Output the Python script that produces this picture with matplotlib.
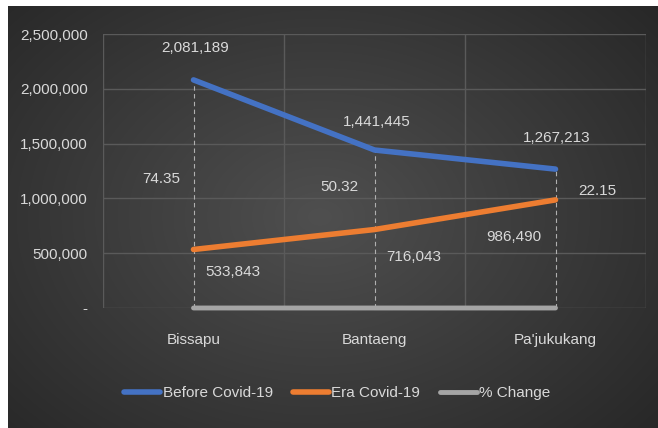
import numpy as np
import matplotlib
matplotlib.use("Agg")
import matplotlib.pyplot as plt
from matplotlib.ticker import FuncFormatter, MultipleLocator

plt.rcParams['font.family'] = ['Liberation Sans', 'DejaVu Sans']

districts = ["Bissapu", "Bantaeng", "Pa'jukukang"]
before_covid = [2081189, 1441445, 1267213]
era_covid = [533843, 716043, 986490]
pct_change = [74.35, 50.32, 22.15]

TEXT = "#d9d9d9"
BLUE = "#4472c4"
ORANGE = "#ed7d31"
GREY = "#a5a5a5"
GRID = "#5a5a5a"

W, H = 658, 428
fig = plt.figure(figsize=(W / 100, H / 100), dpi=100)
fig.patch.set_facecolor("white")

# dark panel with a soft radial shading
bg = fig.add_axes([8 / W, 0, 1 - 8 / W, 1 - 6 / H])
yy, xx = np.mgrid[0:1:300j, 0:1:400j]
r = np.sqrt(((xx - 0.48) / 0.75) ** 2 + ((yy - 0.5) / 0.85) ** 2)
shade = np.clip(1 - r, 0, 1)
lo, hi = np.array([0.14, 0.14, 0.14]), np.array([0.31, 0.31, 0.31])
img = lo + (hi - lo) * shade[..., None]
bg.imshow(img, aspect="auto", extent=[0, 1, 0, 1], interpolation="bilinear")
bg.set_axis_off()

ax = fig.add_axes([103 / W, 1 - 308 / H, (646 - 103) / W, (308 - 34) / H])
ax.patch.set_alpha(0)
x = np.arange(len(districts))

fs = 11
ax.set_xlim(-0.5, 2.5)
ax.set_ylim(0, 2500000)
ax.yaxis.set_major_locator(MultipleLocator(500000))
ax.yaxis.set_major_formatter(FuncFormatter(lambda v, p: "-" if v == 0 else f"{int(v):,}"))
ax.set_xticks(x)
ax.set_xticklabels(districts)
ax.set_xticks([-0.5, 0.5, 1.5, 2.5], minor=True)
ax.tick_params(axis="both", which="both", length=0, colors=TEXT, labelsize=fs)
ax.tick_params(axis="x", pad=18)
ax.tick_params(axis="y", pad=11)
ax.grid(axis="y", which="major", color=GRID, linewidth=1)
ax.grid(axis="x", which="minor", color=GRID, linewidth=1)
for s in ax.spines.values():
    s.set_visible(False)

# drop lines
tops = np.maximum(before_covid, era_covid)
ax.vlines(x, 0, tops, colors="#b0b0b0", linestyles=(0, (4, 3)), linewidth=0.8, zorder=2)

ax.plot(x, before_covid, color=BLUE, lw=4, solid_capstyle="round", solid_joinstyle="round",
        label="Before Covid-19", zorder=4)
ax.plot(x, era_covid, color=ORANGE, lw=4, solid_capstyle="round", solid_joinstyle="round",
        label="Era Covid-19", zorder=4)
ax.plot(x, pct_change, color=GREY, lw=3.5, solid_capstyle="round",
        label="% Change", zorder=3, clip_on=False)

before_off = [(2, 32), (2, 28), (1, 31)]
for xi, v, off in zip(x, before_covid, before_off):
    ax.annotate(f"{v:,}", (xi, v), xytext=off, textcoords="offset pixels",
                ha="center", va="center", color=TEXT, fontsize=fs)
era_off = [(39, -23), (39, -27), (-42, -37)]
for xi, v, off in zip(x, era_covid, era_off):
    ax.annotate(f"{v:,}", (xi, v), xytext=off, textcoords="offset pixels",
                ha="center", va="center", color=TEXT, fontsize=fs)
pct_off = [(-32, 129), (-35, 121), (42, 117)]
for xi, v, off in zip(x, pct_change, pct_off):
    ax.annotate(f"{v:.2f}", (xi, v), xytext=off, textcoords="offset pixels",
                ha="center", va="center", color=TEXT, fontsize=fs)

leg = fig.legend(loc="center", bbox_to_anchor=(337 / W, 1 - 393 / H), ncol=3,
                 frameon=False, fontsize=fs, handlelength=2.4, handletextpad=0.15,
                 columnspacing=1.3, labelcolor=TEXT)

fig.savefig("out.png", dpi=100, facecolor=fig.get_facecolor())
